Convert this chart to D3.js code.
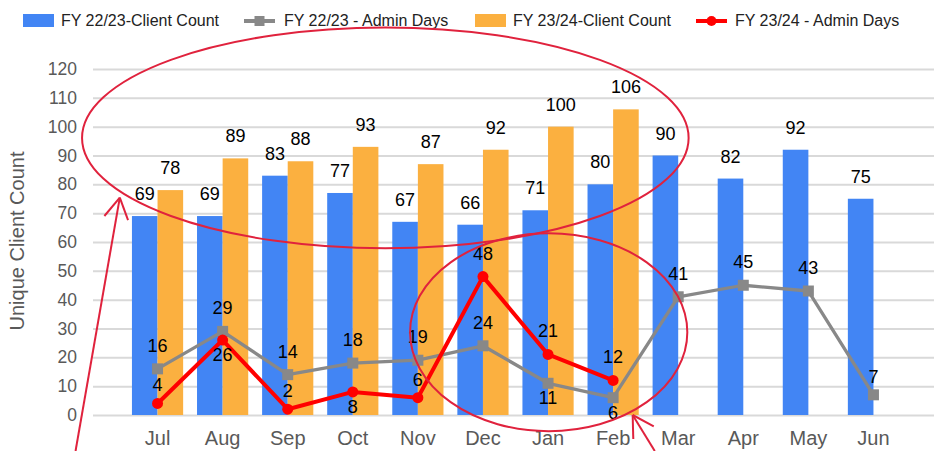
<!DOCTYPE html>
<html>
<head>
<meta charset="utf-8">
<script src="https://cdn.jsdelivr.net/npm/d3@7/dist/d3.min.js"></script>
<style>
  html, body { margin: 0; padding: 0; background: #fff; }
  svg { display: block; font-family: "Liberation Sans", Arial, sans-serif; }
</style>
</head>
<body>
<svg id="chart" width="934" height="451"></svg>
<script>
// ---------- data ----------
const months = ["Jul","Aug","Sep","Oct","Nov","Dec","Jan","Feb","Mar","Apr","May","Jun"];
const clients2223 = [69,69,83,77,67,66,71,80,90,82,92,75];
const clients2324 = [78,89,88,93,87,92,100,106];
const admin2223 = [16,29,14,18,19,24,11,6,41,45,43,7];
const admin2324 = [4,26,2,8,6,48,21,12];
const yTicks = [0,10,20,30,40,50,60,70,80,90,100,110,120];
// label placement for line series: above / low / below
const admin2223Pos = ["above","above","above","above","above","above","below","below","above","above","above","low"];
const admin2324Pos = ["low","below","low","below","low","above","above","above"];

const seriesNames = ["FY 22/23-Client Count","FY 22/23 - Admin Days","FY 23/24-Client Count","FY 23/24 - Admin Days"];

// ---------- styles ----------
const C_BLUE = "#4285f4", C_ORANGE = "#fbb040", C_GRAY = "#888888", C_RED = "#ff0000";
const C_ANNOT = "#e0223d", C_TEXT = "#595959", C_GRID = "#d9d9d9";

const svg = d3.select("#chart");
const W = 934, H = 451;

// ---------- scales ----------
const y = d3.scaleLinear().domain([0,120]).range([415, 69]);
const x = d3.scaleBand().domain(months).range([125, 906]).paddingInner(0.2133).paddingOuter(0.1067);
const xs = d3.scaleBand().domain(["a","b"]).range([0, x.bandwidth()]);
const cx = m => x(m) + x.bandwidth()/2;
// index-space scale for annotations
const xi = d3.scaleLinear().domain([0, months.length-1]).range([cx(months[0]), cx(months[months.length-1])]);

// ---------- grid + y axis ----------
const yAxis = d3.axisLeft(y).tickValues(yTicks).tickSize(-(W-93)).tickPadding(16);
const gy = svg.append("g").attr("transform","translate(93,0)").call(yAxis);
gy.select(".domain").remove();
gy.selectAll(".tick line").attr("stroke", C_GRID).attr("stroke-width", 2);
gy.selectAll(".tick text").attr("fill", C_TEXT).attr("font-size", "17.5px")
  .attr("font-family", "Liberation Sans, Arial, sans-serif");

// ---------- x axis ----------
const xAxis = d3.axisBottom(x).tickSize(0).tickPadding(16);
const gx = svg.append("g").attr("transform","translate(0,415)").call(xAxis);
gx.select(".domain").remove();
gx.selectAll(".tick text").attr("fill", C_TEXT).attr("font-size", "20px")
  .attr("font-family", "Liberation Sans, Arial, sans-serif");

// y title
svg.append("text")
  .attr("transform", "translate(24,241) rotate(-90)")
  .attr("text-anchor","middle")
  .attr("fill", C_TEXT).attr("font-size","20px")
  .text("Unique Client Count");

// ---------- bars ----------
const bars1 = months.map((m,i)=>({m, v: clients2223[i]}));
const bars2 = clients2324.map((v,i)=>({m: months[i], v}));

svg.append("g").selectAll("rect").data(bars1).join("rect")
  .attr("x", d => x(d.m) + xs("a")).attr("width", xs.bandwidth())
  .attr("y", d => y(d.v)).attr("height", d => y(0) - y(d.v))
  .attr("fill", C_BLUE);
svg.append("g").selectAll("rect").data(bars2).join("rect")
  .attr("x", d => x(d.m) + xs("b")).attr("width", xs.bandwidth())
  .attr("y", d => y(d.v)).attr("height", d => y(0) - y(d.v))
  .attr("fill", C_ORANGE);

// ---------- lines ----------
const line = d3.line().x(d => cx(d.m)).y(d => y(d.v));
const pts1 = months.map((m,i)=>({m, v: admin2223[i], p: admin2223Pos[i]}));
const pts2 = admin2324.map((v,i)=>({m: months[i], v, p: admin2324Pos[i]}));

svg.append("path").datum(pts1).attr("d", line)
  .attr("fill","none").attr("stroke", C_GRAY).attr("stroke-width", 3.3).attr("stroke-linejoin","round");
svg.append("g").selectAll("rect").data(pts1).join("rect")
  .attr("x", d => cx(d.m) - 5.5).attr("y", d => y(d.v) - 5.5)
  .attr("width", 11).attr("height", 11).attr("fill", C_GRAY);

svg.append("path").datum(pts2).attr("d", line)
  .attr("fill","none").attr("stroke", C_RED).attr("stroke-width", 4).attr("stroke-linejoin","round");
svg.append("g").selectAll("circle").data(pts2).join("circle")
  .attr("cx", d => cx(d.m)).attr("cy", d => y(d.v)).attr("r", 5.5).attr("fill", C_RED);

// ---------- data labels ----------
const lbl = svg.append("g").attr("font-size","18px").attr("fill","#000").attr("text-anchor","middle");
lbl.selectAll("text.b1").data(bars1).join("text").attr("class","b1")
  .attr("x", d => x(d.m) + xs("a") + xs.bandwidth()/2).attr("y", d => y(d.v) - 16).text(d => d.v);
lbl.selectAll("text.b2").data(bars2).join("text").attr("class","b2")
  .attr("x", d => x(d.m) + xs("b") + xs.bandwidth()/2).attr("y", d => y(d.v) - 16).text(d => d.v);
const off = {above: -17, low: -12, below: 21};
lbl.selectAll("text.l1").data(pts1).join("text").attr("class","l1")
  .attr("x", d => cx(d.m)).attr("y", d => y(d.v) + off[d.p]).text(d => d.v);
lbl.selectAll("text.l2").data(pts2).join("text").attr("class","l2")
  .attr("x", d => cx(d.m)).attr("y", d => y(d.v) + off[d.p]).text(d => d.v);

// ---------- legend ----------
const lg = svg.append("g").attr("font-size","16px").attr("fill","#222");
const legendX = [23, 244, 475, 696];
// item 0: blue swatch
lg.append("rect").attr("x", legendX[0]).attr("y", 14).attr("width", 31).attr("height", 13).attr("fill", C_BLUE);
lg.append("text").attr("x", legendX[0]+38).attr("y", 26).text(seriesNames[0]);
// item 1: gray line + square
lg.append("line").attr("x1", legendX[1]).attr("x2", legendX[1]+31).attr("y1", 21).attr("y2", 21)
  .attr("stroke", C_GRAY).attr("stroke-width", 4);
lg.append("rect").attr("x", legendX[1]+10.5).attr("y", 16).attr("width", 10).attr("height", 10).attr("fill", C_GRAY);
lg.append("text").attr("x", legendX[1]+40).attr("y", 26).text(seriesNames[1]);
// item 2: orange swatch
lg.append("rect").attr("x", legendX[2]).attr("y", 14).attr("width", 31).attr("height", 13).attr("fill", C_ORANGE);
lg.append("text").attr("x", legendX[2]+38).attr("y", 26).text(seriesNames[2]);
// item 3: red line + circle
lg.append("line").attr("x1", legendX[3]).attr("x2", legendX[3]+31).attr("y1", 21).attr("y2", 21)
  .attr("stroke", C_RED).attr("stroke-width", 4);
lg.append("circle").attr("cx", legendX[3]+15.5).attr("cy", 21).attr("r", 5).attr("fill", C_RED);
lg.append("text").attr("x", legendX[3]+39).attr("y", 26).text(seriesNames[3]);

// ---------- annotations (in data space: index, value) ----------
const ellipses = [
  {i: 3.50, v: 96.1, ri: 4.66, rv: 38.3},
  {i: 6.01, v: 28.7, ri: 2.13, rv: 34.3}
];
const arrows = [
  {tip: [-0.58, 75.4], tail: [-1.26, -12.5]},
  {tip: [7.30, 0.0], tail: [7.64, -12.5]}
];
const ag = svg.append("g").attr("fill","none").attr("stroke", C_ANNOT).attr("stroke-width", 2);
ag.selectAll("ellipse").data(ellipses).join("ellipse")
  .attr("cx", d => xi(d.i)).attr("cy", d => y(d.v))
  .attr("rx", d => xi(d.i + d.ri) - xi(d.i)).attr("ry", d => y(0) - y(d.rv));
arrows.forEach(a => {
  const tx = xi(a.tip[0]), ty = y(a.tip[1]);
  const sx = xi(a.tail[0]), sy = y(a.tail[1]);
  ag.append("line").attr("x1", sx).attr("y1", sy).attr("x2", tx).attr("y2", ty);
  const ang = Math.atan2(sy - ty, sx - tx);
  const L = 24, spread = Math.PI/6;
  [ang - spread, ang + spread].forEach(t => {
    ag.append("line").attr("x1", tx).attr("y1", ty)
      .attr("x2", tx + L*Math.cos(t)).attr("y2", ty + L*Math.sin(t));
  });
});
</script>
</body>
</html>
